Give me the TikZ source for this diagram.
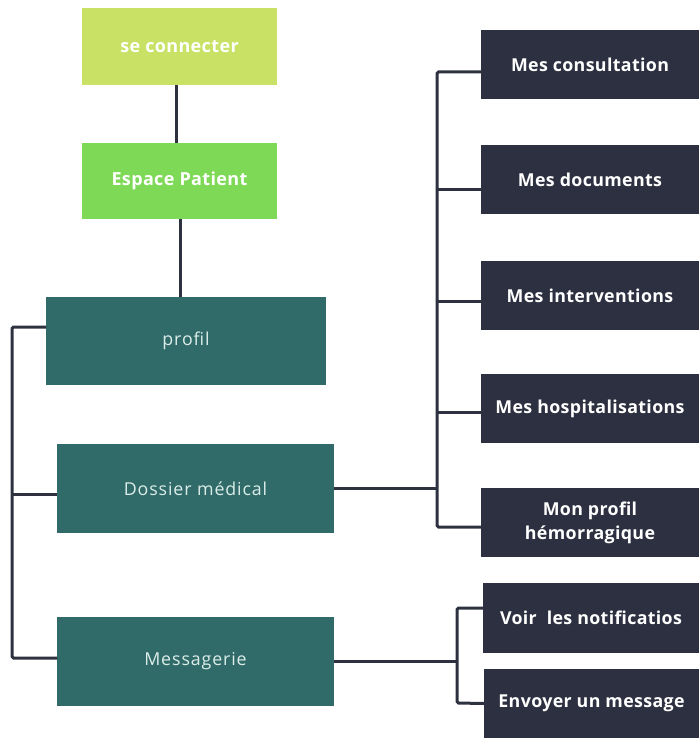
\documentclass[tikz,border=0pt]{standalone}
\usepackage{fontspec}
\setmainfont{Open Sans}
\newfontfamily\boxbold[LetterSpace=2]{Open Sans Bold}
\newfontfamily\boxlight[LetterSpace=5]{Open Sans}
\definecolor{limebox}{HTML}{C9E265}
\definecolor{greenbox}{HTML}{7ED957}
\definecolor{tealbox}{HTML}{306B69}
\definecolor{darkbox}{HTML}{2D3040}
\definecolor{linkcol}{HTML}{2E3140}
\definecolor{tealtext}{HTML}{DCEDE9}
\begin{document}
\begin{tikzpicture}[x=1pt,y=-1pt,
  card/.style={rectangle, inner sep=0pt, outer sep=0pt, align=center},
  topcard/.style={card, text=white, font=\boxbold\fontsize{18}{22}\selectfont},
  sectioncard/.style={card, fill=tealbox, text=tealtext, font=\boxlight\fontsize{17.8}{22}\selectfont,
    minimum width=277pt, minimum height=89pt},
  leafcard/.style={card, fill=darkbox, text=white, font=\boxbold\fontsize{17.8}{24}\selectfont,
    minimum width=218pt, minimum height=69pt},
  link/.style={draw=linkcol, line width=3pt, rounded corners=1.5pt}]
\useasboundingbox (0,0) rectangle (699,738);

% top of the tree
\node[topcard, fill=limebox, minimum width=195pt, minimum height=77pt] (conn) at (179.5,46.5) {se connecter};
\node[topcard, fill=greenbox, minimum width=195pt, minimum height=76pt] (esp) at (179.5,181) {Espace Patient};

% the three sections
\node[sectioncard, minimum width=280pt, minimum height=88pt] (prof) at (186,341) {profil};
\node[sectioncard] (doss) at (195.5,488.5) {Dossier médical};
\node[sectioncard] (msg) at (195.5,661.5) {Messagerie};

% medical file entries
\node[leafcard] (cons) at (590,64.5) {Mes consultation};
\node[leafcard] (docs) at (590,179.5) {Mes documents};
\node[leafcard] (interv) at (590,295.5) {Mes interventions};
\node[leafcard] (hosp) at (590,408.5) {Mes hospitalisations};
\node[leafcard] (hemo) at (590,522.5) {Mon profil\\hémorragique};

% messaging entries
\node[leafcard, minimum width=216pt, minimum height=70pt] (notif) at (591,618) {Voir~ les notificatios};
\node[leafcard, minimum width=215pt] (env) at (591.5,703.5) {Envoyer un message};

% vertical chain
\draw[link] ([xshift=-3.5pt]conn.south) -- ([xshift=-3.5pt]esp.north);
\draw[link] ([xshift=0.5pt]esp.south) -- ([xshift=0.5pt]esp.south |- prof.north);

% left bus joining the sections
\coordinate (lbtop) at (12,327);
\coordinate (lbbot) at (12,658);
\draw[link] ([yshift=14pt]prof.west) -- (lbtop) -- (lbbot) -- ([yshift=3.5pt]msg.west);
\draw[link] ([yshift=-5.5pt]doss.west) -- ([yshift=-5.5pt]doss.west -| lbtop);

% bus of the medical file
\coordinate (dbtop) at (437,72);
\coordinate (dbbot) at (437,527);
\draw[link] ([yshift=-7.5pt]cons.west) -- (dbtop) -- (dbbot) -- ([yshift=-4.5pt]hemo.west);
\draw[link] (doss.east) -- (doss.east -| dbtop);
\draw[link] ([yshift=-9.5pt]docs.west) -- ([yshift=-9.5pt]docs.west -| dbtop);
\draw[link] ([yshift=-5.5pt]interv.west) -- ([yshift=-5.5pt]interv.west -| dbtop);
\draw[link] ([yshift=-3.5pt]hosp.west) -- ([yshift=-3.5pt]hosp.west -| dbtop);

% bus of the messaging
\coordinate (mbtop) at (457,608);
\coordinate (mbbot) at (457,703);
\draw[link] (msg.east) -- (msg.east -| mbtop);
\draw[link] ([yshift=10pt]notif.west) -- (mbtop) -- (mbbot) -- (env.west);
\end{tikzpicture}
\end{document}
